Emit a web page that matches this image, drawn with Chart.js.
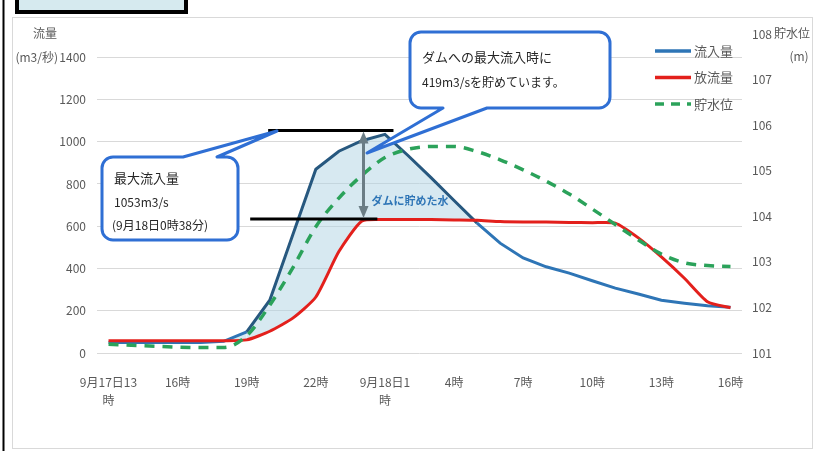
<!DOCTYPE html>
<html>
<head>
<meta charset="utf-8">
<script src="https://cdn.jsdelivr.net/npm/chart.js@4/dist/chart.umd.min.js"></script>
<style>
  html, body { margin: 0; padding: 0; background: #fff; }
  #wrap { width: 815px; height: 451px; }
</style>
</head>
<body>
<div id="wrap"><canvas id="myChart" width="815" height="451"></canvas></div>
<script>
// 9/17 13時 〜 9/18 16時 (1時間ごと)
const categories = [
  "9月17日13時", "14時", "15時", "16時", "17時", "18時", "19時", "20時", "21時", "22時", "23時",
  "9月18日0時", "1時", "2時", "3時", "4時", "5時", "6時", "7時", "8時", "9時", "10時",
  "11時", "12時", "13時", "14時", "15時", "16時"
];
const xTickLabels = [["9月17日13", "時"], "16時", "19時", "22時", ["9月18日1", "時"], "4時", "7時", "10時", "13時", "16時"];
const leftTicks = [0, 200, 400, 600, 800, 1000, 1200, 1400];

// 流入量 (m3/s)
const inflow = [50, 50, 50, 50, 50, 55, 100, 250, 560, 870, 955, 1005, 1035, 935, 830, 722,
  615, 520, 450, 408, 378, 342, 307, 279, 250, 236, 224, 216];
// 放流量 (m3/s)
const outflow = [58, 58, 58, 58, 58, 58, 62, 103, 165, 265, 480, 625, 632, 632, 632, 630,
  628, 622, 620, 620, 618, 617, 615, 545, 455, 354, 243, 214];
// 貯水位 (m)
const waterLevel = [101.19, 101.17, 101.15, 101.13, 101.12, 101.12, 101.38, 102.05, 102.87, 103.77,
  104.4, 104.9, 105.29, 105.47, 105.53, 105.53, 105.42, 105.24, 105.02, 104.77, 104.49, 104.16,
  103.82, 103.48, 103.17, 102.98, 102.92, 102.9];

const FONT = "'Noto Sans CJK JP', sans-serif";
const BLUE = "#2e75b6";
const RED = "#e3201c";
const GREEN = "#2ba25a";
const TEXT = "#595959";

// 吹き出し
function callout(c, x, y, w, h, r, edge, b1, b2, tx, ty) {
  c.beginPath();
  c.moveTo(x + r, y);
  if (edge === "top") {
    c.lineTo(b1, y);
    c.lineTo(tx, ty);
    c.lineTo(b2, y);
  }
  c.lineTo(x + w - r, y);
  c.arcTo(x + w, y, x + w, y + r, r);
  c.lineTo(x + w, y + h - r);
  c.arcTo(x + w, y + h, x + w - r, y + h, r);
  if (edge === "bottom") {
    c.lineTo(b2, y + h);
    c.lineTo(tx, ty);
    c.lineTo(b1, y + h);
  }
  c.lineTo(x + r, y + h);
  c.arcTo(x, y + h, x, y + h - r, r);
  c.lineTo(x, y + r);
  c.arcTo(x, y, x + r, y, r);
  c.closePath();
  c.fillStyle = "#fff";
  c.fill();
  c.lineWidth = 3;
  c.strokeStyle = "#2f6fd4";
  c.lineJoin = "round";
  c.stroke();
}

const framePlugin = {
  id: "frame",
  beforeDraw(chart) {
    const c = chart.ctx;
    c.save();
    c.fillStyle = "#fff";
    c.fillRect(0, 0, chart.width, chart.height);
    // 外枠
    c.strokeStyle = "#d9d9d9";
    c.lineWidth = 1;
    c.strokeRect(12.5, 17.5, 800, 431);
    c.strokeStyle = "#000";
    c.lineWidth = 2;
    c.beginPath();
    c.moveTo(3.5, 0);
    c.lineTo(3.5, chart.height);
    c.stroke();
    // 見出しボックス (上が切れている)
    c.fillStyle = "#d6eaef";
    c.fillRect(17, -10, 169, 22);
    c.lineWidth = 4;
    c.strokeRect(17, -10, 169, 22);
    c.restore();
  },
  afterDraw(chart) {
    const c = chart.ctx;
    const xs = chart.scales.x, ys = chart.scales.y;
    c.save();

    // 最大流入量と放流量の線
    const yTop = ys.getPixelForValue(1053);
    const yBot = ys.getPixelForValue(1053 - 419);
    c.strokeStyle = "#000";
    c.lineWidth = 3;
    c.beginPath();
    c.moveTo(xs.getPixelForValue(6.93), yTop);
    c.lineTo(xs.getPixelForValue(12.37), yTop);
    c.moveTo(xs.getPixelForValue(6.15), yBot);
    c.lineTo(xs.getPixelForValue(11.67), yBot);
    c.stroke();

    // 両矢印
    const ax = xs.getPixelForValue(11.07);
    c.strokeStyle = "#6b7d85";
    c.fillStyle = "#6b7d85";
    c.lineWidth = 3;
    c.beginPath();
    c.moveTo(ax, yTop + 10);
    c.lineTo(ax, yBot - 10);
    c.stroke();
    c.beginPath();
    c.moveTo(ax, yTop + 1);
    c.lineTo(ax - 5, yTop + 13);
    c.lineTo(ax + 5, yTop + 13);
    c.closePath();
    c.fill();
    c.beginPath();
    c.moveTo(ax, yBot - 1);
    c.lineTo(ax - 5, yBot - 13);
    c.lineTo(ax + 5, yBot - 13);
    c.closePath();
    c.fill();

    c.font = "bold 11px " + FONT;
    c.fillStyle = "#2e75b6";
    c.textBaseline = "middle";
    c.textAlign = "left";
    c.fillText("ダムに貯めた水", ax + 8, 201);

    // 吹き出し
    callout(c, 102, 157, 136, 83, 11, "top", 183, 217, 277, 131);
    callout(c, 410, 32, 200, 76, 11, "bottom", 443, 487, 367, 153);

    c.fillStyle = "#262626";
    c.font = "13px " + FONT;
    c.fillText("最大流入量", 114, 178);
    c.font = "12px " + FONT;
    c.fillText("1053m3/s", 114, 202);
    c.fillText("(9月18日0時38分)", 112, 225);
    c.font = "13px " + FONT;
    c.fillText("ダムへの最大流入時に", 422, 57);
    c.font = "12px " + FONT;
    c.fillText("419m3/sを貯めています。", 422, 82);

    // 凡例
    const items = [["流入量", BLUE, []], ["放流量", RED, []], ["貯水位", GREEN, [9, 7]]];
    items.forEach((it, i) => {
      const y = 51 + i * 26.5;
      c.strokeStyle = it[1];
      c.lineWidth = 3.5;
      c.setLineDash(it[2]);
      c.beginPath();
      c.moveTo(655, y);
      c.lineTo(691, y);
      c.stroke();
      c.setLineDash([]);
      c.fillStyle = TEXT;
      c.font = "13px " + FONT;
      c.fillText(it[0], 694, y);
    });

    // 軸タイトル
    c.fillStyle = TEXT;
    c.font = "12px " + FONT;
    c.textAlign = "center";
    c.fillText("流量", 45, 33);
    c.textAlign = "right";
    c.fillText("(m3/秒)", 58, 57);
    c.textAlign = "left";
    c.fillText("貯水位", 774, 33);
    c.textAlign = "center";
    c.fillText("(m)", 799, 56);
    c.restore();
  }
};

const ctx = document.getElementById("myChart").getContext("2d");
const myChart = new Chart(ctx, {
  type: "line",
  data: {
    labels: categories,
    datasets: [
      {
        label: "流入量",
        data: inflow,
        yAxisID: "y",
        borderColor: BLUE,
        borderWidth: 3,
        pointRadius: 0,
        tension: 0,
        order: 2,
        segment: {
          borderColor: (s) => (s.p0DataIndex >= 6 && s.p0DataIndex < 16 ? "#27587f" : BLUE),
        },
        fill: { target: 1, above: "rgba(175, 212, 228, 0.5)", below: "rgba(0,0,0,0)" },
      },
      {
        label: "放流量",
        data: outflow,
        yAxisID: "y",
        borderColor: RED,
        borderWidth: 3,
        pointRadius: 0,
        tension: 0.2,
        order: 1,
        fill: false,
      },
      {
        label: "貯水位",
        data: waterLevel,
        yAxisID: "y2",
        borderColor: GREEN,
        borderWidth: 3.5,
        borderDash: [10, 8],
        pointRadius: 0,
        cubicInterpolationMode: "monotone",
        order: 0,
        fill: false,
      },
    ],
  },
  options: {
    responsive: false,
    animation: false,
    layout: { padding: { top: 34, left: 0, right: 0, bottom: 0 } },
    plugins: { legend: { display: false }, tooltip: { enabled: false } },
    scales: {
      x: {
        offset: true,
        grid: { display: false },
        border: { display: false },
        ticks: {
          autoSkip: false,
          maxRotation: 0,
          padding: 12,
          color: TEXT,
          font: { family: FONT, size: 12, lineHeight: 1.55 },
          callback: (v, i) => (i % 3 === 0 ? xTickLabels[i / 3] : null),
        },
        afterFit: (s) => { s.height = 98; },
      },
      y: {
        position: "left",
        min: 0,
        max: 1510,
        afterBuildTicks: (s) => { s.ticks = leftTicks.map((v) => ({ value: v })); },
        grid: { color: "#d9d9d9", drawTicks: false },
        border: { display: false },
        ticks: { padding: 11, color: TEXT, font: { family: FONT, size: 12 }, callback: (v) => String(v) },
        afterFit: (s) => { s.width = 97; },
      },
      y2: {
        position: "right",
        min: 101,
        max: 108,
        grid: { display: false, drawTicks: false },
        border: { display: false },
        ticks: { stepSize: 1, padding: 10, color: TEXT, font: { family: FONT, size: 12 } },
        afterFit: (s) => { s.width = 73; },
      },
    },
  },
  plugins: [framePlugin],
});
</script>
</body>
</html>
